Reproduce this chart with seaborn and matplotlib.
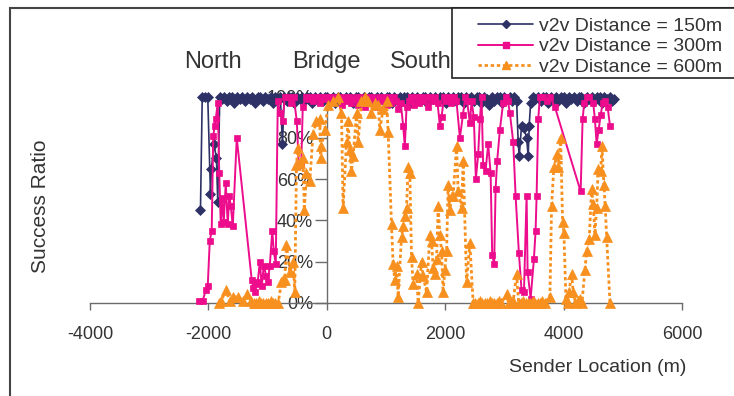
import matplotlib
matplotlib.use("Agg")
import matplotlib.pyplot as plt
from matplotlib.patches import Rectangle
from matplotlib.lines import Line2D
import seaborn as sns

# ---------------- data ----------------
series_labels = ["v2v Distance = 150m", "v2v Distance = 300m", "v2v Distance = 600m"]
x_ticks = [-4000, -2000, 0, 2000, 4000, 6000]
x_tick_labels = ["-4000", "-2000", "0", "2000", "4000", "6000"]
y_ticks = [0, 20, 40, 60, 80, 100]
y_tick_labels = ["0%", "20%", "40%", "60%", "80%", "100%"]
region_names = ["North", "Bridge", "South"]

x_150 = [-2134, -2104, -2062, -2011, -1965, -1949, -1905, -1864, -1842, -1808,
         -1770, -1730, -1690, -1650, -1600, -1560, -1520, -1470, -1430, -1390,
         -1340, -1300, -1260, -1210, -1170, -1130, -1080, -1040, -1000, -950,
         -910, -870, -820, -785, -749, -720, -680, -640, -590, -550,
         -510, -460, -420, -380, -330, -290, -250, -200, -160, -120,
         -70, -30, 10, 60, 100, 140, 190, 230, 270, 320,
         360, 400, 450, 490, 530, 580, 620, 660, 710, 750,
         790, 840, 880, 920, 970, 1010, 1050, 1100, 1140, 1180,
         1230, 1270, 1310, 1360, 1400, 1440, 1490, 1530, 1570, 1620,
         1660, 1700, 1750, 1790, 1830, 1880, 1920, 1960, 2010, 2050,
         2090, 2140, 2180, 2220, 2270, 2310, 2350, 2400, 2440, 2480,
         2530, 2570, 2610, 2660, 2700, 2740, 2790, 2830, 2870, 2920,
         2960, 3000, 3050, 3090, 3130, 3170, 3206, 3233, 3250, 3290,
         3329, 3375, 3402, 3419, 3443, 3480, 3520, 3570, 3610, 3650,
         3700, 3740, 3780, 3830, 3870, 3910, 3960, 4000, 4040, 4090,
         4130, 4170, 4220, 4260, 4300, 4350, 4390, 4430, 4480, 4520,
         4560, 4610, 4650, 4690, 4740, 4780, 4820, 4850]
y_150 = [45, 100, 100, 100, 53, 65, 77, 70, 49, 100,
         99, 100, 98, 100, 100, 97, 100, 99, 100, 98,
         100, 99, 100, 97, 100, 100, 98, 100, 99, 100,
         97, 100, 99, 100, 77, 100, 98, 100, 100, 97,
         100, 99, 100, 98, 100, 100, 97, 100, 99, 100,
         98, 100, 100, 99, 100, 97, 100, 100, 98, 100,
         99, 100, 97, 100, 100, 98, 100, 99, 100, 100,
         97, 100, 99, 100, 98, 100, 100, 97, 100, 99,
         100, 98, 100, 100, 97, 100, 99, 100, 98, 100,
         100, 97, 100, 99, 100, 98, 100, 100, 97, 100,
         99, 100, 98, 100, 100, 97, 100, 99, 100, 98,
         100, 100, 97, 100, 99, 96, 100, 98, 100, 100,
         97, 100, 99, 100, 98, 100, 98, 78, 71, 86,
         85, 80, 71, 86, 97, 100, 99, 100, 98, 100,
         100, 97, 100, 99, 100, 98, 100, 100, 97, 100,
         99, 100, 98, 100, 100, 97, 100, 99, 100, 98,
         100, 100, 97, 100, 99, 100, 98, 99]

x_300 = [-2163, -2096, -2045, -2011, -1977, -1944, -1918, -1893, -1876, -1842,
         -1817, -1791, -1766, -1741, -1707, -1673, -1648, -1622, -1588, -1521,
         -1268, -1242, -1217, -1191, -1166, -1132, -1099, -1065, -1022, -997,
         -963, -921, -896, -862, -828, -786, -744, -710, -659, -608,
         -558, -507, -473, -431, -406, -355, -310, -270, -230, -190,
         -150, -110, -70, -30, 10, 50, 90, 130, 170, 210,
         250, 290, 330, 370, 410, 450, 490, 530, 570, 610,
         650, 690, 730, 770, 810, 850, 890, 930, 970, 1010,
         1050, 1090, 1130, 1170, 1210, 1250, 1289, 1318, 1347, 1390,
         1430, 1470, 1510, 1550, 1590, 1630, 1670, 1710, 1750, 1790,
         1830, 1870, 1910, 1938, 1980, 2020, 2060, 2100, 2150, 2190,
         2248, 2298, 2340, 2370, 2417, 2445, 2484, 2518, 2557, 2586,
         2614, 2641, 2682, 2726, 2767, 2794, 2827, 2851, 2878, 2924,
         2979, 3025, 3059, 3093, 3149, 3189, 3245, 3290, 3330, 3375,
         3392, 3443, 3498, 3527, 3544, 3571, 3600, 3655, 3713, 3769,
         3853, 4288, 4321, 4348, 4394, 4433, 4500, 4529, 4558, 4592,
         4626, 4659, 4703, 4744, 4783]
y_300 = [1, 1, 6, 8, 30, 35, 81, 86, 89, 97,
         63, 38, 51, 39, 58, 38, 52, 47, 37, 80,
         11, 7, 5, 9, 10, 20, 8, 18, 13, 10,
         18, 35, 25, 19, 98, 92, 88, 100, 100, 97,
         100, 88, 67, 68, 95, 100, 99, 100, 98, 100,
         100, 97, 100, 99, 100, 100, 98, 100, 99, 100,
         96, 100, 98, 100, 97, 99, 100, 96, 100, 98,
         95, 100, 97, 100, 99, 95, 100, 98, 100, 96,
         100, 97, 100, 98, 94, 97, 86, 76, 95, 98,
         100, 96, 100, 97, 100, 98, 100, 95, 100, 98,
         100, 97, 86, 90, 100, 98, 100, 97, 100, 98,
         80, 91, 100, 98, 87, 98, 90, 60, 72, 89,
         100, 67, 64, 77, 63, 23, 19, 55, 69, 84,
         97, 100, 98, 92, 78, 52, 24, 6, 5, 52,
         15, 2, 21, 35, 52, 89, 100, 100, 98, 100,
         95, 54, 89, 97, 100, 100, 97, 89, 77, 84,
         91, 97, 98, 95, 86]

x_600 = [-1825, -1780, -1707, -1639, -1584, -1499, -1415, -1347, -1273, -1230,
         -1190, -1150, -1110, -1070, -1030, -990, -950, -910, -870, -820,
         -766, -738, -710, -681, -625, -570, -541, -512, -490, -456,
         -401, -380, -343, -287, -232, -174, -118, -106, -90, -34,
         22, 106, 191, 248, 275, 333, 360, 389, 417, 444,
         502, 529, 586, 642, 698, 755, 811, 867, 896, 951,
         1009, 1036, 1093, 1120, 1149, 1178, 1205, 1262, 1289, 1318,
         1347, 1374, 1403, 1431, 1458, 1516, 1543, 1600, 1627, 1685,
         1741, 1769, 1796, 1825, 1854, 1881, 1910, 1938, 1965, 1994,
         2023, 2050, 2079, 2107, 2134, 2192, 2219, 2276, 2304, 2361,
         2417, 2472, 2510, 2550, 2590, 2630, 2670, 2710, 2750, 2790,
         2830, 2870, 2910, 2950, 3037, 3070, 3110, 3150, 3206, 3240,
         3280, 3320, 3360, 3400, 3440, 3480, 3520, 3560, 3600, 3640,
         3680, 3769, 3797, 3836, 3892, 3912, 3950, 3983, 4005, 4039,
         4073, 4090, 4135, 4163, 4200, 4242, 4276, 4310, 4360, 4389,
         4433, 4473, 4500, 4529, 4558, 4585, 4626, 4648, 4681, 4703,
         4727, 4783]
y_600 = [0, 1, 6, 1, 3, 3, 1, 4, 1, 0,
         0, 1, 0, 0, 0, 0, 1, 0, 0, 0,
         10, 11, 11, 28, 15, 20, 5, 67, 75, 68,
         70, 45, 63, 59, 82, 88, 89, 70, 76, 84,
         96, 98, 100, 92, 46, 78, 88, 74, 64, 71,
         92, 78, 98, 100, 98, 92, 97, 96, 84, 94,
         98, 83, 38, 19, 11, 18, 3, 32, 37, 42,
         46, 66, 63, 22, 9, 14, 0, 20, 13, 5,
         33, 30, 17, 14, 21, 47, 33, 25, 5, 16,
         25, 57, 45, 52, 52, 76, 54, 46, 69, 10,
         29, 0, 0, 0, 1, 0, 0, 0, 1, 0,
         0, 0, 1, 0, 4, 0, 0, 1, 14, 0,
         0, 1, 0, 0, 0, 1, 0, 0, 0, 1,
         0, 3, 47, 66, 72, 66, 80, 39, 34, 2,
         0, 5, 14, 5, 0, 1, 2, 0, 16, 25,
         31, 55, 48, 33, 46, 65, 64, 76, 57, 47,
         32, 0]

# ---------------- style ----------------
sns.set_theme(style="white")
plt.rcParams['font.family'] = ['Liberation Sans', 'DejaVu Sans']

W, H = 734, 396
fig = plt.figure(figsize=(W / 100, H / 100), dpi=100)
fig.patch.set_facecolor("white")
ax = fig.add_axes([90 / W, 1 - 302.7 / H, 592 / W, 206 / H])
ax.patch.set_alpha(0)

navy = "#2E3166"
magenta = "#EC0C8C"
orange = "#F7901E"
txt = "#333333"
axis_col = "#6b6b6b"

styles = [
    dict(color=navy, marker="D", markersize=5, linewidth=1.2, linestyle="-"),
    dict(color=magenta, marker="s", markersize=4.8, linewidth=1.4, linestyle="-"),
    dict(color=orange, marker="^", markersize=6.5, linewidth=2.0, linestyle=(0, (1.2, 1.0))),
]
data = [(x_150, y_150), (x_300, y_300), (x_600, y_600)]
for (xs, ys), st, z in zip(data, styles, [3, 4, 5]):
    sns.lineplot(x=xs, y=ys, ax=ax, estimator=None, sort=False,
                 color=st["color"], marker=st["marker"], markersize=st["markersize"],
                 markeredgecolor=st["color"], markerfacecolor=st["color"],
                 markeredgewidth=0.5, linewidth=st["linewidth"],
                 linestyle=st["linestyle"], clip_on=False, zorder=z)

ax.set_xlim(-4000, 6000)
ax.set_ylim(0, 100)
ax.set_xticks(x_ticks)
ax.set_xticklabels(x_tick_labels)
ax.set_yticks(y_ticks)
ax.set_yticklabels(y_tick_labels)
ax.set_xlabel("")
ax.set_ylabel("")

for s in ["top", "right"]:
    ax.spines[s].set_visible(False)
ax.spines["left"].set_position(("data", 0))
for s in ["left", "bottom"]:
    ax.spines[s].set_color(axis_col)
    ax.spines[s].set_linewidth(1.0)

ax.tick_params(axis="y", direction="out", length=9, width=1.0, pad=1,
               labelsize=13, color=axis_col, labelcolor=txt, left=True)
ax.tick_params(axis="x", direction="out", length=5, width=1.0, pad=12,
               labelsize=13, color=axis_col, labelcolor=txt, bottom=True)

# region labels
for name, px in zip(region_names, [213, 326, 421]):
    fig.text(px / W, 1 - 62 / H, name, ha="center", va="center",
             fontsize=17, color=txt)

# axis titles
fig.text(40 / W, 1 - 206 / H, "Success Ratio", rotation=90, ha="center",
         va="center", fontsize=15, color=txt)
fig.text(598 / W, 1 - 368 / H, "Sender Location (m)", ha="center",
         va="center", fontsize=14, color=txt)

# outer chart border
fig.add_artist(Rectangle((10 / W, -0.5), 2.0, 1 - 8 / H + 0.5,
                         transform=fig.transFigure, fill=False,
                         edgecolor="#444444", linewidth=1.5, zorder=1))

# legend box
fig.add_artist(Rectangle((452 / W, 1 - 78 / H), 1.0, 70 / H,
                         transform=fig.transFigure, facecolor="white",
                         edgecolor="#222222", linewidth=1.2, zorder=8))
handles = [Line2D([0], [0], color=st["color"], marker=st["marker"],
                  markersize=st["markersize"] * 0.9, linewidth=st["linewidth"],
                  linestyle=st["linestyle"], markeredgecolor=st["color"])
           for st in styles]
leg = fig.legend(handles, series_labels, loc="upper left",
                 bbox_to_anchor=(478 / W, 1 - 17 / H), frameon=False,
                 fontsize=14, handlelength=2.85, handletextpad=0.3,
                 labelspacing=0.16, borderaxespad=0, borderpad=0)
leg.set_zorder(9)
for t in leg.get_texts():
    t.set_color(txt)

fig.savefig("out.png", dpi=100, facecolor="white")
